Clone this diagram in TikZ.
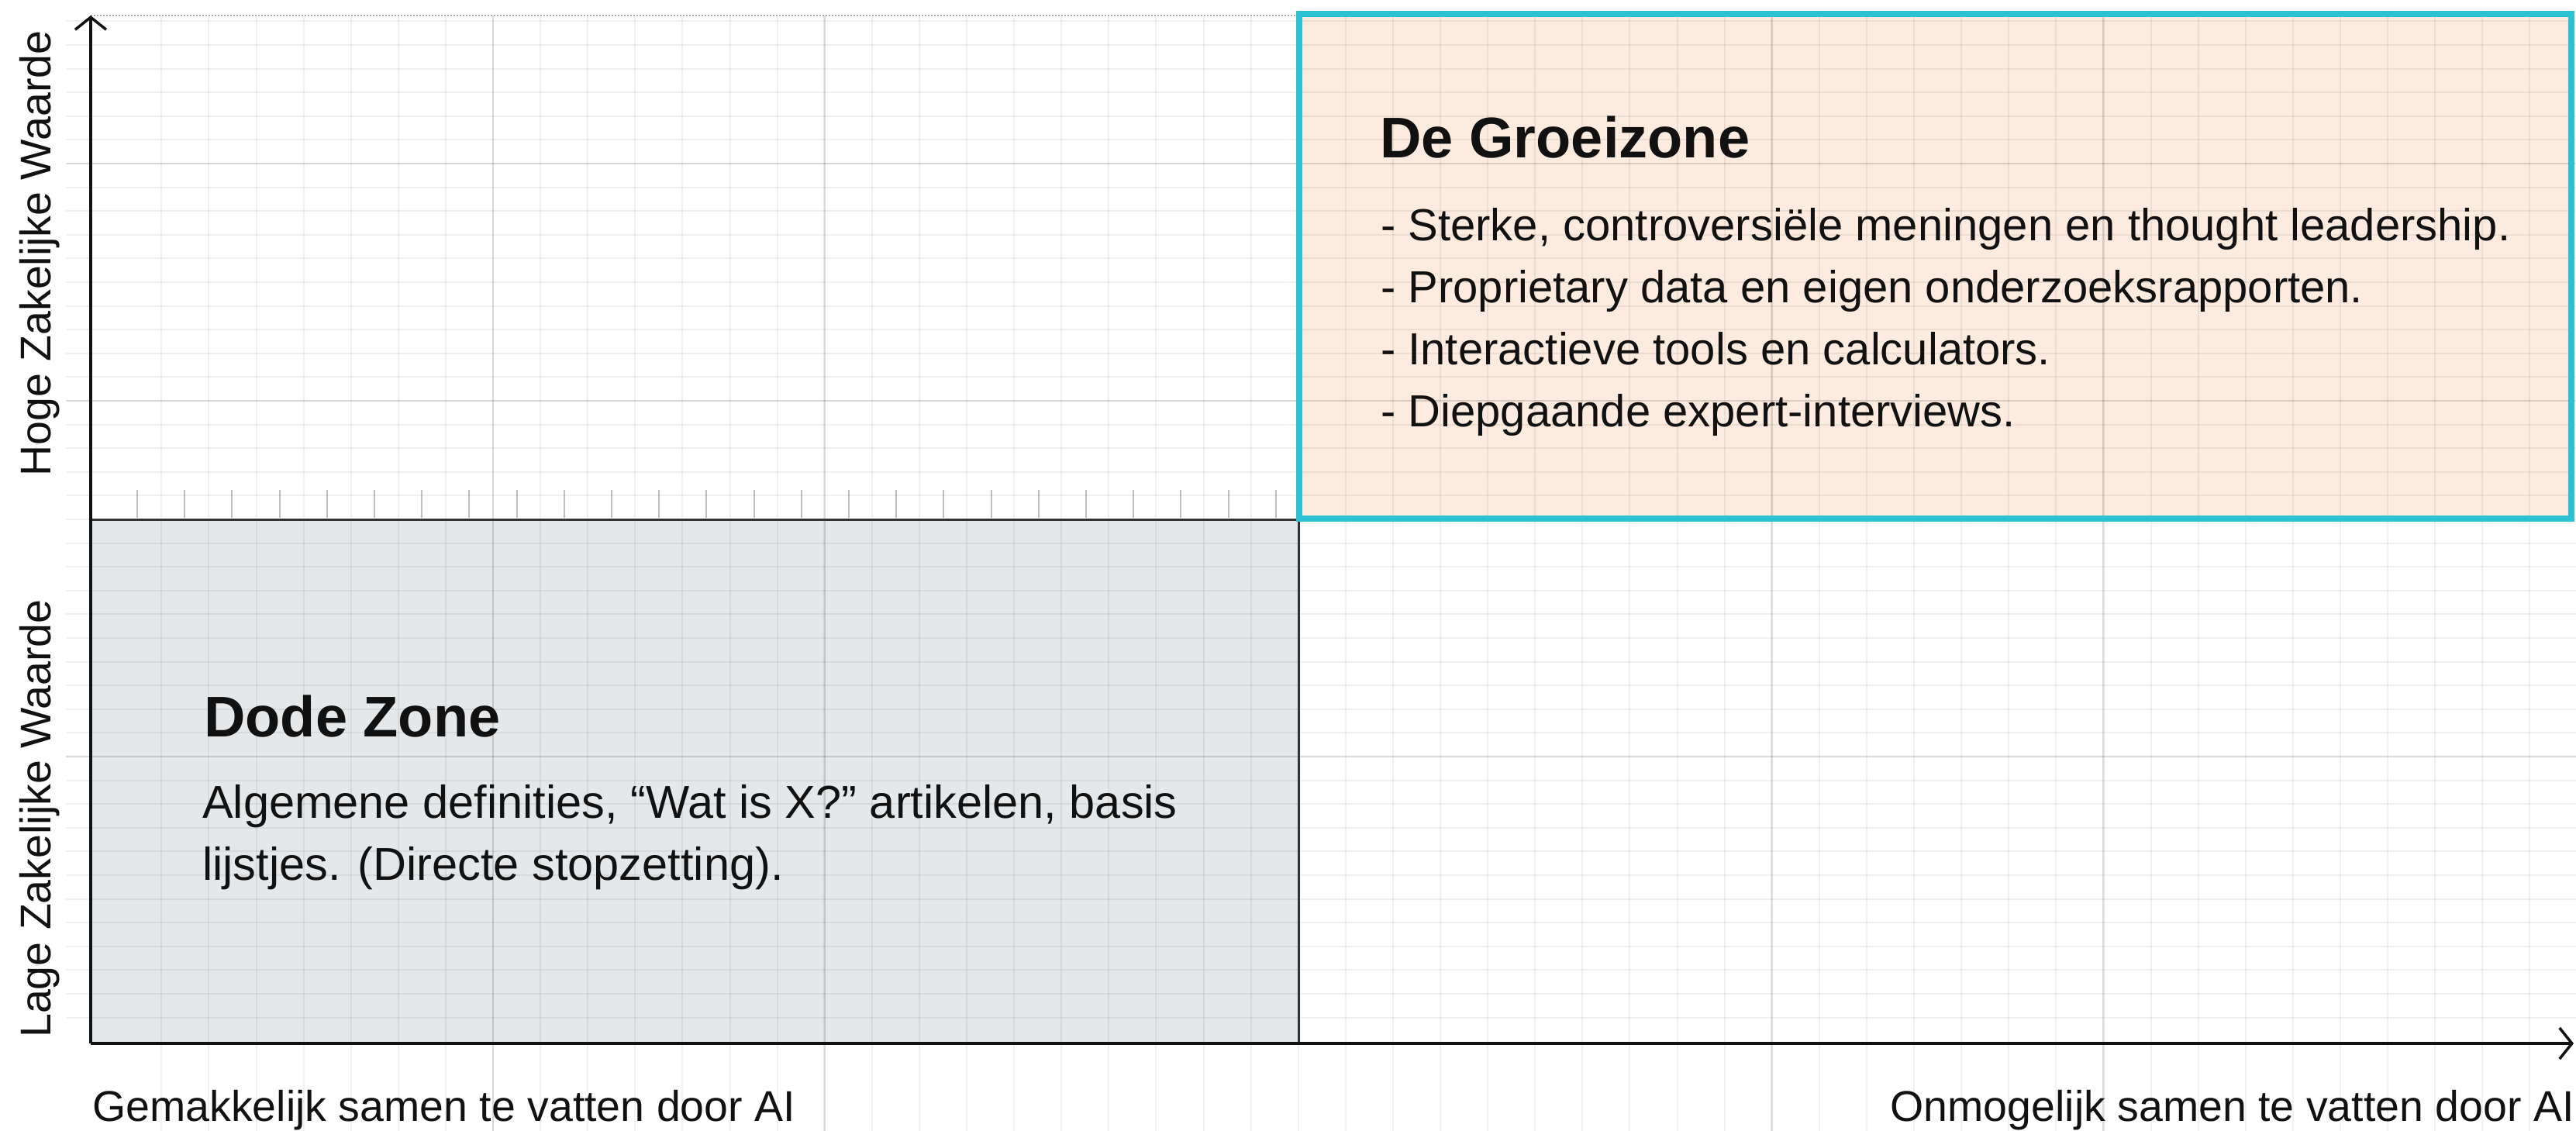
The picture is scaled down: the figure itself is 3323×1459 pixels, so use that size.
\documentclass[tikz,border=0pt]{standalone}
\usepackage{fontspec}
\setmainfont{Liberation Sans}
\usetikzlibrary{arrows.meta}
\definecolor{ink}{HTML}{111111}
\definecolor{peach}{HTML}{FCEBDE}
\definecolor{cyanb}{HTML}{2CC2D4}
\definecolor{deadgray}{HTML}{E5E8EA}
\begin{document}
\begin{tikzpicture}[x=1pt,y=-1pt,
  minorgrid/.style={black, opacity=0.06, line width=2pt},
  majorgrid/.style={black, opacity=0.09, line width=2.5pt},
  tickmark/.style={black, opacity=0.25, line width=2pt},
  axisline/.style={ink, line width=3.5pt},
  divider/.style={black!80, line width=3pt},
  txt/.style={inner sep=0pt, text=ink},
  axisfont/.style={txt, font=\fontsize{55.5pt}{66pt}\selectfont},
  titlefont/.style={txt, font=\bfseries\fontsize{74pt}{88pt}\selectfont},
  bodyfont/.style={txt, font=\fontsize{58pt}{70pt}\selectfont},
  deadbody/.style={txt, font=\fontsize{59.5pt}{70pt}\selectfont}]
\useasboundingbox (0,0) rectangle (3323,1459);
\fill[white] (0,0) rectangle (3323,1459);

% zone fills
\fill[deadgray] (117,670) rectangle (1675,1346);
\fill[peach] (1675,18) rectangle (3320,670);

% background grid
\foreach \k in {-7,...,43} {
  \draw[minorgrid] ({636+61.1*\k},20) -- ({636+61.1*\k},1459);
}
\foreach \k in {-6,...,36} {
  \draw[minorgrid] (85,{211+30.6*\k}) -- (3323,{211+30.6*\k});
}
\foreach \k in {0,7,27,34} {
  \draw[majorgrid] ({636+61.1*\k},20) -- ({636+61.1*\k},1459);
}
\foreach \k in {0,10,25} {
  \draw[majorgrid] (85,{211+30.6*\k}) -- (3323,{211+30.6*\k});
}
\draw[black!35, line width=2pt, dotted] (117,20) -- (1675,20);

% ruler ticks above the divider
\foreach \k in {0,...,24} {
  \draw[tickmark] ({177+61.2*\k},632) -- ({177+61.2*\k},668);
}

% dividers
\coordinate (midL) at (117,670);
\coordinate (midC) at (1675,670);
\coordinate (midB) at (1675,1346);
\draw[divider] (midL) -- (midC) -- (midB);

% highlighted growth zone
\draw[cyanb, line width=8pt] (1676,18) rectangle (3317,669);

% axes
\coordinate (O) at (117,1346);
\coordinate (ytip) at (117,20);
\coordinate (xtip) at (3320,1346);
\draw[axisline, -{Straight Barb[length=16pt,width=40pt]}] (O) -- (ytip);
\draw[axisline, -{Straight Barb[length=16pt,width=40pt]}] (O) -- (xtip);

% axis labels
\node[axisfont, rotate=90, anchor=base] (ylabhigh) at (65,327) {Hoge Zakelijke Waarde};
\node[axisfont, rotate=90, anchor=base] (ylablow) at (65,1056) {Lage Zakelijke Waarde};
\node[axisfont, anchor=base west] (xlabeasy) at (119,1446) {Gemakkelijk samen te vatten door AI};
\node[axisfont, anchor=base east] (xlabhard) at (3321,1446) {Onmogelijk samen te vatten door AI};

% growth zone text
\node[titlefont, anchor=base west] (growtitle) at (1780,203) {De Groeizone};
\node[bodyfont, anchor=base west] (grow1) at (1781,310) {- Sterke, controversiële meningen en thought leadership.};
\node[bodyfont, anchor=base west] (grow2) at (1781,390) {- Proprietary data en eigen onderzoeksrapporten.};
\node[bodyfont, anchor=base west] (grow3) at (1781,470) {- Interactieve tools en calculators.};
\node[bodyfont, anchor=base west] (grow4) at (1781,550) {- Diepgaande expert-interviews.};

% dead zone text
\node[titlefont, anchor=base west] (deadtitle) at (263,950) {Dode Zone};
\node[deadbody, anchor=base west] (dead1) at (261,1055) {Algemene definities, “Wat is X?” artikelen, basis};
\node[deadbody, anchor=base west] (dead2) at (261,1135) {lijstjes. (Directe stopzetting).};
\end{tikzpicture}
\end{document}
